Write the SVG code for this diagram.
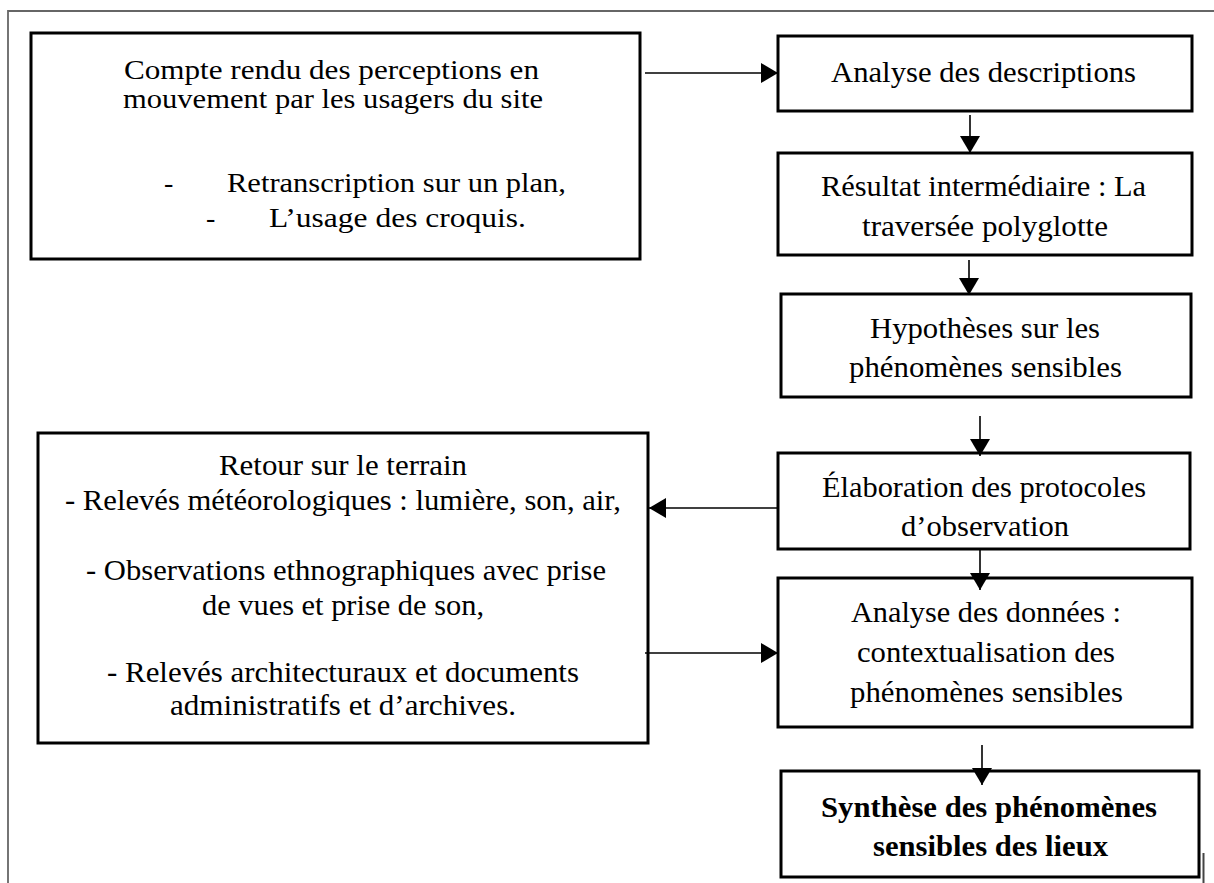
<svg xmlns="http://www.w3.org/2000/svg" width="1214" height="883" viewBox="0 0 1214 883">
<style>
.frame{fill:none;stroke:#666;stroke-width:1.8}
.box{fill:#fff;stroke:#000;stroke-width:3}
.t{font-family:"Liberation Serif","Times New Roman",serif;fill:#000}
.s1{font-size:28px}
.s2{font-size:30px}
.s3{font-size:30px}
.b{font-weight:bold}
.conn{stroke:#000;stroke-width:1.6;fill:none;marker-end:url(#ah)}
</style>
<defs>
<marker id="ah" markerUnits="userSpaceOnUse" markerWidth="18" markerHeight="20" refX="17" refY="10" orient="auto">
<path d="M0,0 L17,10 L0,20 z" fill="#000"/>
</marker>
</defs>
<rect width="1214" height="883" fill="#fff"/>
<g id="frame">
<path class="frame" d="M8,883 L8,11 L1214,11"/>
<line x1="1203.5" y1="853" x2="1203.5" y2="883" stroke="#444" stroke-width="2"/>
</g>
<g id="node-compte-rendu">
<rect class="box" x="31" y="33" width="609" height="226"/>
<text class="t s1" x="124" y="79" textLength="415" lengthAdjust="spacingAndGlyphs">Compte rendu des perceptions en</text>
<text class="t s1" x="123" y="108" textLength="420" lengthAdjust="spacingAndGlyphs">mouvement par les usagers du site</text>
<text class="t s1" x="164" y="192">-</text>
<text class="t s1" x="227" y="192" textLength="339" lengthAdjust="spacingAndGlyphs">Retranscription sur un plan,</text>
<text class="t s1" x="206" y="227">-</text>
<text class="t s1" x="269" y="227" textLength="257" lengthAdjust="spacingAndGlyphs">L’usage des croquis.</text>
</g>
<g id="node-analyse-descriptions">
<rect class="box" x="778" y="36" width="414" height="75"/>
<text class="t s3" x="831" y="82" textLength="305" lengthAdjust="spacingAndGlyphs">Analyse des descriptions</text>
</g>
<g id="node-resultat">
<rect class="box" x="778" y="153" width="414" height="102"/>
<text class="t s3" x="821" y="196" textLength="325" lengthAdjust="spacingAndGlyphs">Résultat intermédiaire : La</text>
<text class="t s3" x="862" y="236" textLength="246" lengthAdjust="spacingAndGlyphs">traversée polyglotte</text>
</g>
<g id="node-hypotheses">
<rect class="box" x="781" y="294" width="410" height="103"/>
<text class="t s3" x="870" y="338" textLength="230" lengthAdjust="spacingAndGlyphs">Hypothèses sur les</text>
<text class="t s3" x="849" y="377" textLength="273" lengthAdjust="spacingAndGlyphs">phénomènes sensibles</text>
</g>
<g id="node-elaboration">
<rect class="box" x="778" y="453" width="412" height="96"/>
<text class="t s3" x="822" y="497" textLength="324" lengthAdjust="spacingAndGlyphs">Élaboration des protocoles</text>
<text class="t s3" x="901" y="536" textLength="168" lengthAdjust="spacingAndGlyphs">d’observation</text>
</g>
<g id="node-retour-terrain">
<rect class="box" x="38" y="433" width="610" height="310"/>
<text class="t s2" x="219" y="475" textLength="248" lengthAdjust="spacingAndGlyphs">Retour sur le terrain</text>
<text class="t s2" x="65" y="510" textLength="556" lengthAdjust="spacingAndGlyphs">- Relevés météorologiques : lumière, son, air,</text>
<text class="t s2" x="86" y="580" textLength="520" lengthAdjust="spacingAndGlyphs">- Observations ethnographiques avec prise</text>
<text class="t s2" x="202" y="615" textLength="282" lengthAdjust="spacingAndGlyphs">de vues et prise de son,</text>
<text class="t s2" x="107" y="682" textLength="472" lengthAdjust="spacingAndGlyphs">- Relevés architecturaux et documents</text>
<text class="t s2" x="170" y="715" textLength="346" lengthAdjust="spacingAndGlyphs">administratifs et d’archives.</text>
</g>
<g id="node-analyse-donnees">
<rect class="box" x="778" y="578" width="414" height="149"/>
<text class="t s3" x="851" y="622" textLength="270" lengthAdjust="spacingAndGlyphs">Analyse des données :</text>
<text class="t s3" x="857" y="662" textLength="258" lengthAdjust="spacingAndGlyphs">contextualisation des</text>
<text class="t s3" x="850" y="702" textLength="273" lengthAdjust="spacingAndGlyphs">phénomènes sensibles</text>
</g>
<g id="node-synthese">
<rect class="box" x="781" y="771" width="418" height="106"/>
<text class="t s3 b" x="821" y="817" textLength="336" lengthAdjust="spacingAndGlyphs">Synthèse des phénomènes</text>
<text class="t s3 b" x="873" y="856" textLength="235" lengthAdjust="spacingAndGlyphs">sensibles des lieux</text>
</g>
<g id="connectors">
<line class="conn" x1="645" y1="73" x2="778" y2="73"/>
<line class="conn" x1="970" y1="115" x2="970" y2="153"/>
<line class="conn" x1="969" y1="260" x2="969" y2="295"/>
<line class="conn" x1="980" y1="416" x2="980" y2="456"/>
<line class="conn" x1="778" y1="508" x2="649" y2="508"/>
<line class="conn" x1="980" y1="549" x2="980" y2="590"/>
<line class="conn" x1="645" y1="653" x2="778" y2="653"/>
<line class="conn" x1="982" y1="745" x2="982" y2="785"/>
</g>
</svg>
